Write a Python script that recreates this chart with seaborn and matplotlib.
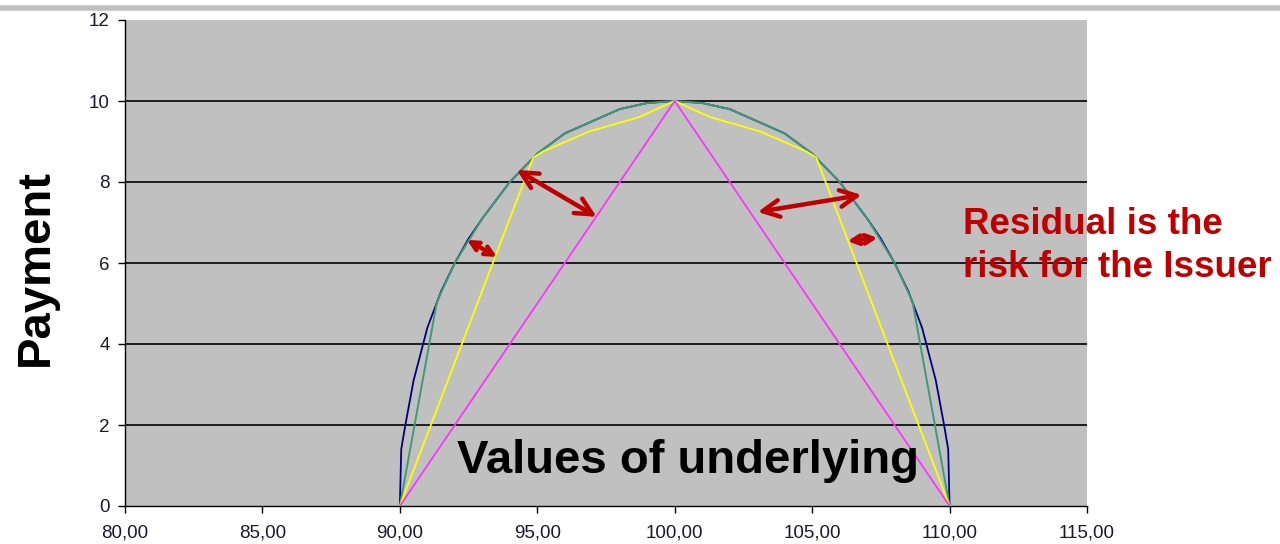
import matplotlib
matplotlib.use("Agg")
import matplotlib.pyplot as plt
import seaborn as sns
from matplotlib.lines import Line2D

# payoff curves
blue_x = [90, 90.05, 90.2, 90.5, 91, 91.5, 92, 92.5, 93, 94, 95, 96, 97, 98, 99, 100,
          101, 102, 103, 104, 105, 106, 107, 107.5, 108, 108.5, 109, 109.5, 109.8, 109.95, 110]
blue_y = [0, 1.4, 2.0, 3.1, 4.4, 5.3, 6.0, 6.6, 7.1, 8.0, 8.7, 9.2, 9.5, 9.8, 9.95, 10,
          9.95, 9.8, 9.5, 9.2, 8.7, 8.0, 7.1, 6.6, 6.0, 5.3, 4.4, 3.1, 2.0, 1.4, 0]

green_x = [90, 91.35, 92, 93, 94, 95, 96, 97, 98, 99, 100,
           101, 102, 103, 104, 105, 106, 107, 108, 108.65, 110]
green_y = [0, 5.05, 6.0, 7.1, 8.0, 8.7, 9.2, 9.5, 9.8, 9.95, 10,
           9.95, 9.8, 9.5, 9.2, 8.7, 8.0, 7.1, 6.0, 5.05, 0]

yellow_x = [90, 94.85, 95.2, 96.9, 98.7, 100, 101.3, 103.1, 104.8, 105.15, 110]
yellow_y = [0, 8.6, 8.75, 9.25, 9.6, 10, 9.6, 9.25, 8.75, 8.6, 0]

magenta_x = [90, 100, 110]
magenta_y = [0, 10, 0]

# red double arrows (start, end) in data units
arrow_start = [(94.25, 8.30), (92.44, 6.57), (103.02, 7.26), (106.29, 6.54)]
arrow_end = [(97.16, 7.14), (93.53, 6.15), (106.8, 7.68), (107.38, 6.62)]
arrow_head = [30, 15, 30, 15]

x_ticks = [80, 85, 90, 95, 100, 105, 110, 115]
y_ticks = [0, 2, 4, 6, 8, 10, 12]

sns.set_style("white")
plt.rcParams['font.family'] = ['Liberation Sans', 'DejaVu Sans']

fig = plt.figure(figsize=(12.8, 5.44), dpi=100)
ax = fig.add_axes([125 / 1280, 38 / 544, 962 / 1280, 486 / 544])
ax.set_facecolor('#c0c0c0')

for yv in y_ticks[1:-1]:
    ax.axhline(yv, color='black', lw=1.2, zorder=1)

sns.lineplot(x=blue_x, y=blue_y, ax=ax, color='#000080', lw=1.3, sort=False, estimator=None, zorder=3)
sns.lineplot(x=green_x, y=green_y, ax=ax, color='#3f9a78', lw=1.4, sort=False, estimator=None, zorder=4)
sns.lineplot(x=yellow_x, y=yellow_y, ax=ax, color='#ffff00', lw=1.3, sort=False, estimator=None, zorder=5)
sns.lineplot(x=magenta_x, y=magenta_y, ax=ax, color='#ff33ff', lw=1.3, sort=False, estimator=None, zorder=5)

for s, e, h in zip(arrow_start, arrow_end, arrow_head):
    ax.annotate('', xy=e, xytext=s,
                arrowprops=dict(arrowstyle='<->', color='#c00000', lw=3.2,
                                mutation_scale=h, shrinkA=0, shrinkB=0), zorder=6)

ax.set_xlim(80, 115)
ax.set_ylim(0, 12)
ax.set_xticks(x_ticks)
ax.set_xticklabels([f"{v:.2f}".replace('.', ',') for v in x_ticks])
ax.set_yticks(y_ticks)
ax.tick_params(axis='both', direction='out', length=5, width=1, color='black',
               labelsize=13.5, labelcolor='#1a1a2a', bottom=True, left=True)
ax.tick_params(axis='x', pad=8)
ax.tick_params(axis='y', pad=6)

for side in ['top', 'right']:
    ax.spines[side].set_visible(False)
ax.spines['left'].set_color('black')
ax.spines['bottom'].set_color('black')
ax.spines['left'].set_linewidth(1)
ax.spines['bottom'].set_linewidth(1)

ax.text(100.5, 1.1, 'Values of underlying', fontsize=34, fontweight='bold',
        ha='center', va='center', color='black', zorder=7)

fig.text(36 / 1280, 1 - 268 / 544, 'Payment', fontsize=34, fontweight='bold',
         rotation=90, ha='center', va='center', color='black')

fig.text(963 / 1280, 1 - 246 / 544, 'Residual is the\nrisk for the Issuer', fontsize=26.5,
         fontweight='bold', color='#c00000', ha='left', va='center', linespacing=1.32)

fig.add_artist(Line2D([0, 1], [1 - 7.5 / 544, 1 - 7.5 / 544], color='#bfbfbf', lw=4,
                      transform=fig.transFigure))

fig.savefig('out.png', dpi=100)
